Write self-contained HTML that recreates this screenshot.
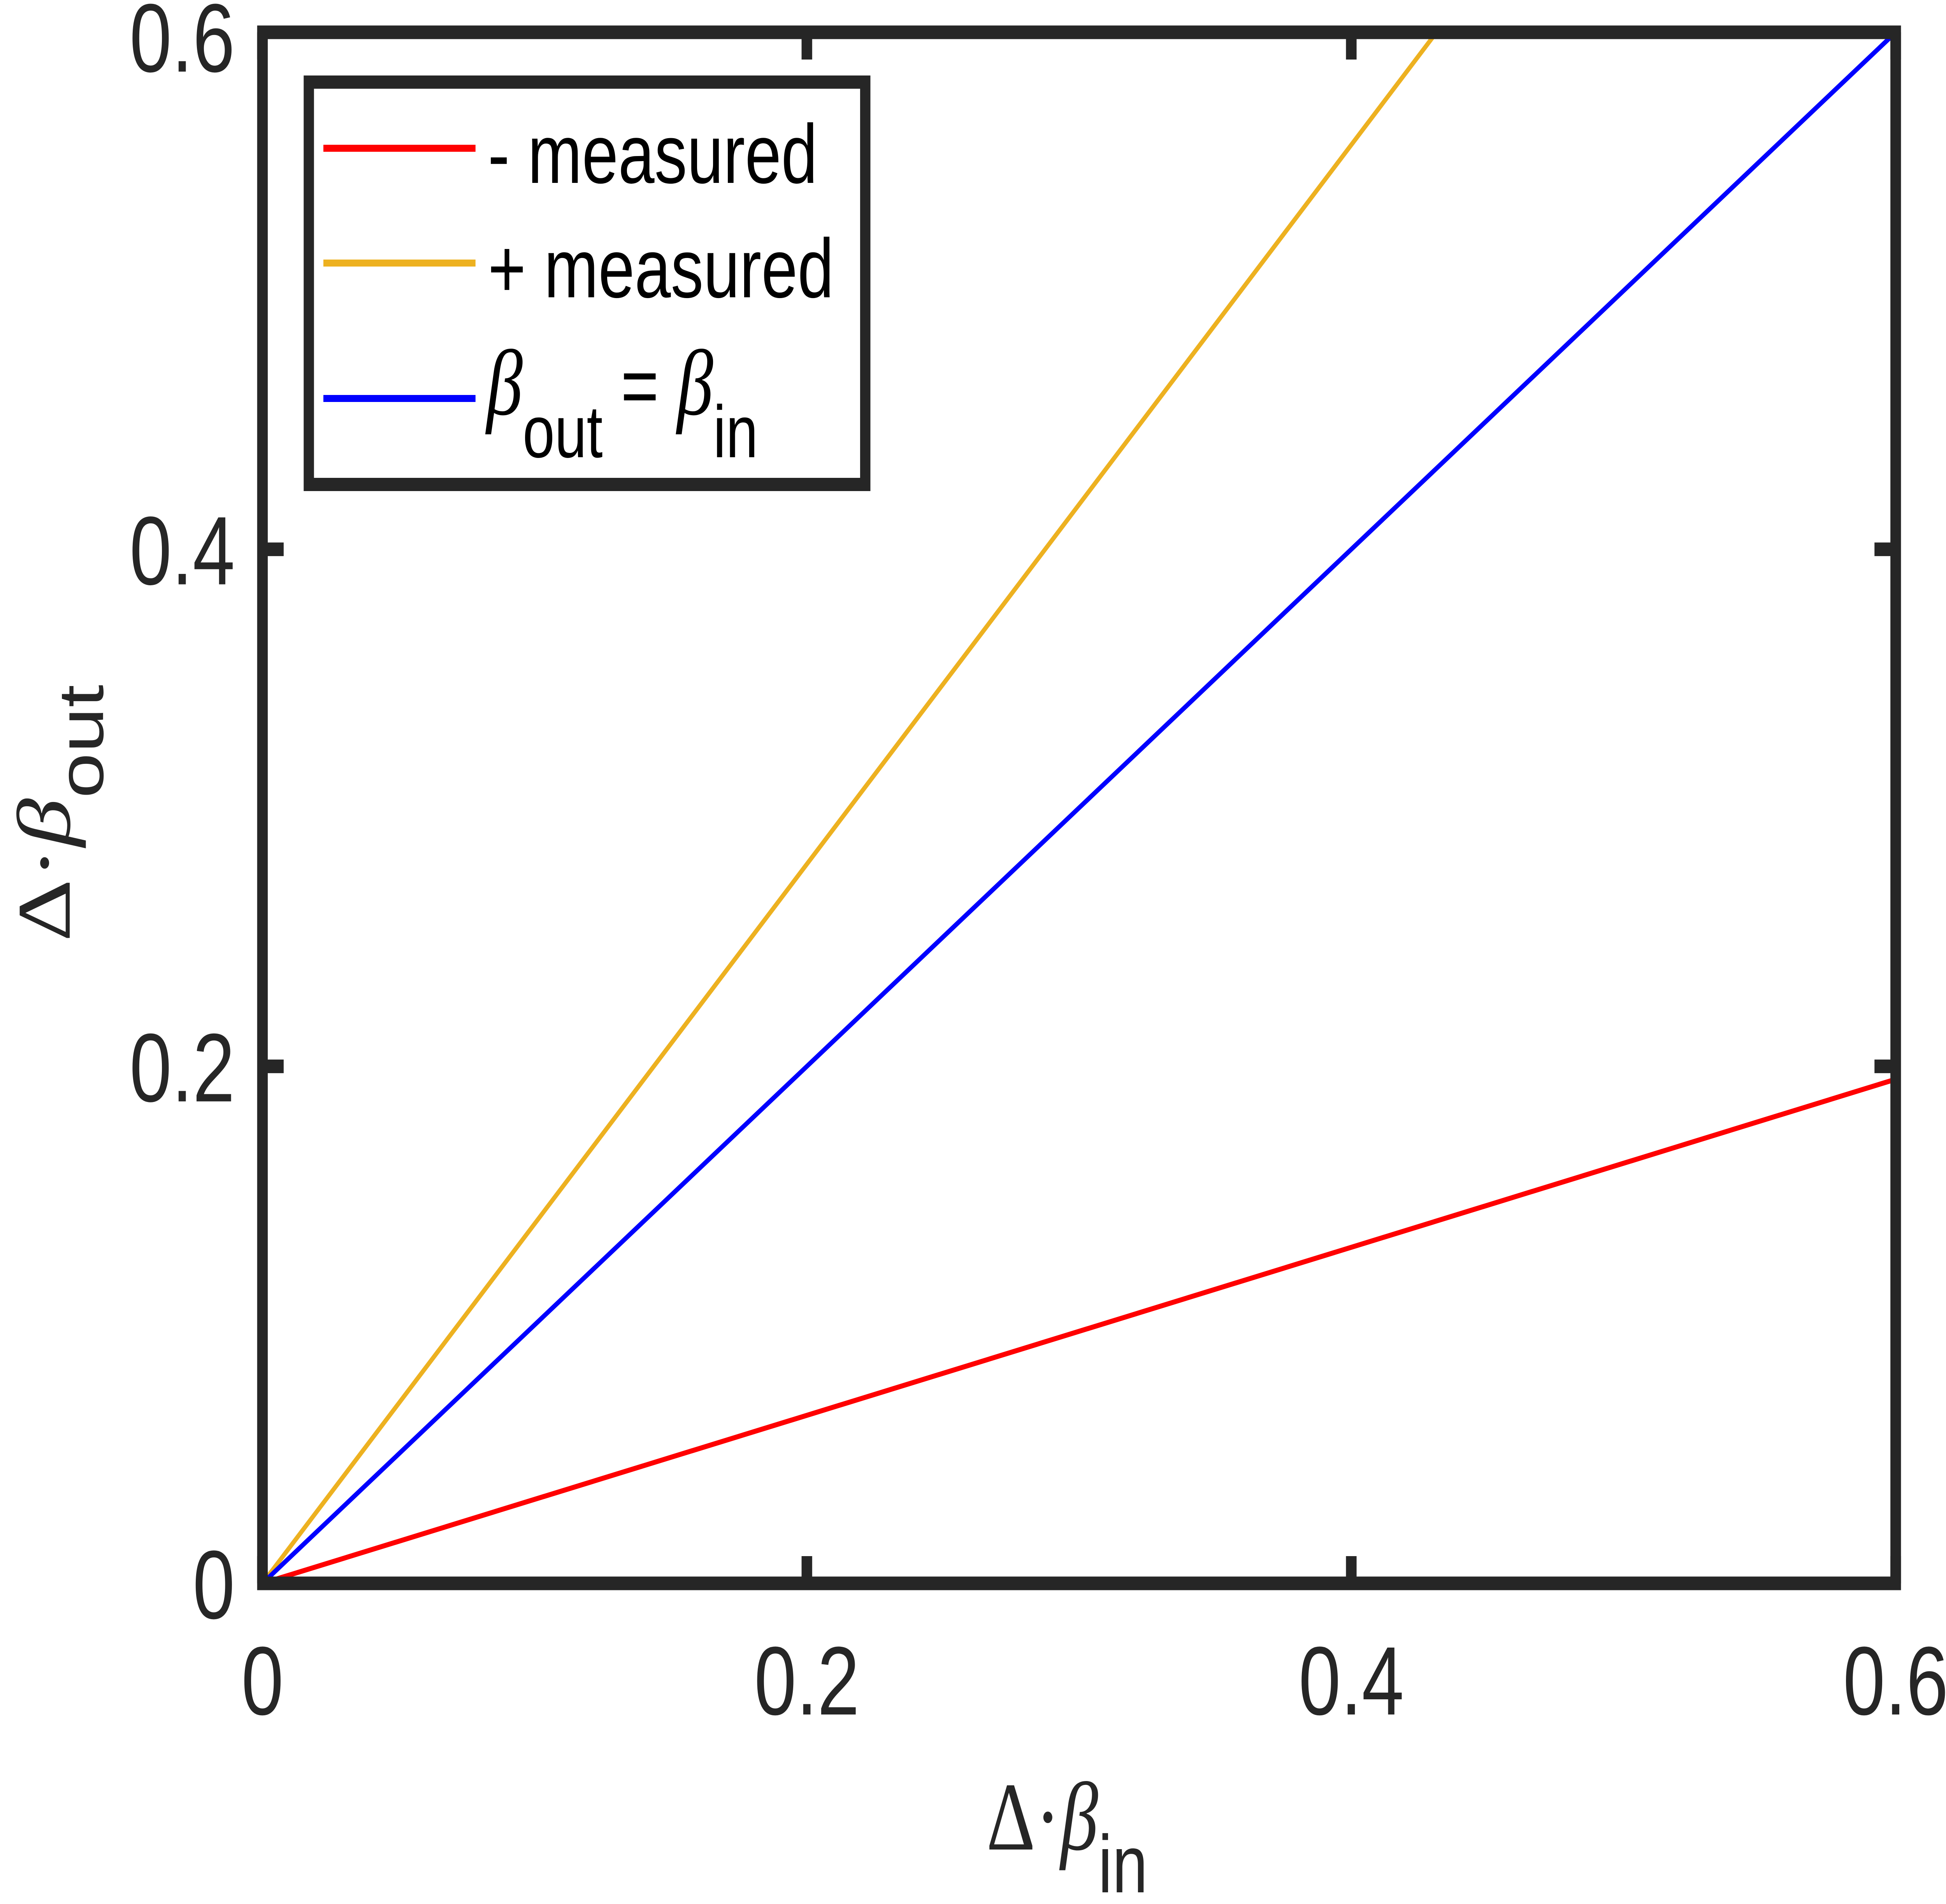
<!DOCTYPE html>
<html><head><meta charset="utf-8"><style>
html,body{margin:0;padding:0;background:#fff;overflow:hidden;width:100%;height:100%;}
svg{display:block;font-family:"Liberation Sans",sans-serif;width:100vw;height:100vh;}
</style></head><body>
<svg id="chart" viewBox="0 0 6421 4893" preserveAspectRatio="none" xmlns="http://www.w3.org/2000/svg">
<rect x="0" y="0" width="6421" height="4893" fill="#fff"/>
<g id="series"></g>
<g id="axes"></g>
<g>
  <rect x="1019" y="211" width="1836" height="1034" fill="#fff" stroke="#262626" stroke-width="34"/>
  <line x1="1067" y1="381" x2="1569" y2="381" stroke="#ff0000" stroke-width="18"/>
  <text x="1610" y="470" font-size="215" fill="#000">- measured</text>
  <line x1="1067" y1="676" x2="1569" y2="676" stroke="#edb120" stroke-width="18"/>
  <text x="1610" y="764" font-size="215" fill="#000">+ measured</text>
  <line x1="1067" y1="1024" x2="1569" y2="1024" stroke="#0000ff" stroke-width="18"/>
  <text x="1605" y="1065" font-size="215" fill="#000"><tspan font-family="Liberation Serif,serif" font-style="italic" font-size="240">β</tspan><tspan dy="110" font-size="190">out</tspan><tspan dy="-110"> = </tspan><tspan font-family="Liberation Serif,serif" font-style="italic" font-size="240">β</tspan><tspan dy="110" font-size="190">in</tspan></text>
</g>
<text x="3255" y="4753" font-size="250" fill="#262626"><tspan font-family="Liberation Serif,serif">Δ·</tspan><tspan font-family="Liberation Serif,serif" font-style="italic">β</tspan><tspan dy="110" font-size="210">in</tspan></text>
<text transform="translate(230,2420) rotate(-90)" font-size="250" fill="#262626"><tspan font-family="Liberation Serif,serif">Δ·</tspan><tspan font-family="Liberation Serif,serif" font-style="italic">β</tspan><tspan dy="110" font-size="210">out</tspan></text>
<script>
const xTicks=[0,0.2,0.4,0.6];
const yTicks=[0,0.2,0.4,0.6];
const xTickLabels=["0","0.2","0.4","0.6"];
const yTickLabels=["0","0.2","0.4","0.6"];
const minusX=[0,0.6];
const minusY=[0,0.195];
const plusX=[0,0.4313];
const plusY=[0,0.6];
const identX=[0,0.6];
const identY=[0,0.6];
const L=866,R=6255,T=83,B=4069;
const sx=v=>L+(v-0)/(0.6)*(R-L);
const sy=v=>B-(v-0)/(0.6)*(B-T);
const NS="http://www.w3.org/2000/svg";
const sg=document.getElementById('series');
function line(xs,ys,color,name){
  const p=document.createElementNS(NS,'polyline');
  p.setAttribute('points',xs.map((x,i)=>sx(x)+','+sy(ys[i])).join(' '));
  p.setAttribute('fill','none');p.setAttribute('stroke',color);p.setAttribute('stroke-width','13');
  
  
  sg.appendChild(p);
}
line(minusX,minusY,'#ff0000','series-minus-measured');
line(plusX,plusY,'#edb120','series-plus-measured');
line(identX,identY,'#0000ff','series-identity');
const ag=document.getElementById('axes');
const fr=document.createElementNS(NS,'rect');
fr.setAttribute('x',L);fr.setAttribute('y',T);fr.setAttribute('width',R-L);fr.setAttribute('height',B-T);
fr.setAttribute('fill','none');fr.setAttribute('stroke','#262626');fr.setAttribute('stroke-width','35');


ag.appendChild(fr);
function tk(x1,y1,x2,y2,name){
  const l=document.createElementNS(NS,'line');
  l.setAttribute('x1',x1);l.setAttribute('y1',y1);l.setAttribute('x2',x2);l.setAttribute('y2',y2);
  l.setAttribute('stroke','#262626');l.setAttribute('stroke-width','35');
  
  
  ag.appendChild(l);
}
xTicks.forEach((v,i)=>{
  const x=sx(v);
  tk(x,B,x,B-70,'x-tick');
  tk(x,T,x,T+70,'x-tick-top');
  const t=document.createElementNS(NS,'text');
  t.setAttribute('x',x);t.setAttribute('y',4406);t.setAttribute('text-anchor','middle');
  t.setAttribute('font-size','250');t.setAttribute('fill','#262626');
  t.textContent=xTickLabels[i];
  
  
  ag.appendChild(t);
});
yTicks.forEach((v,i)=>{
  const y=sy(v);
  tk(L,y,L+70,y,'y-tick');
  tk(R,y,R-70,y,'y-tick-right');
  const t=document.createElementNS(NS,'text');
  t.setAttribute('x',775);t.setAttribute('y',y+(i===yTicks.length-1?101:90));t.setAttribute('text-anchor','end');
  t.setAttribute('font-size','250');t.setAttribute('fill','#262626');
  t.textContent=yTickLabels[i];
  
  
  ag.appendChild(t);
});
</script>
</svg>
</body></html>
